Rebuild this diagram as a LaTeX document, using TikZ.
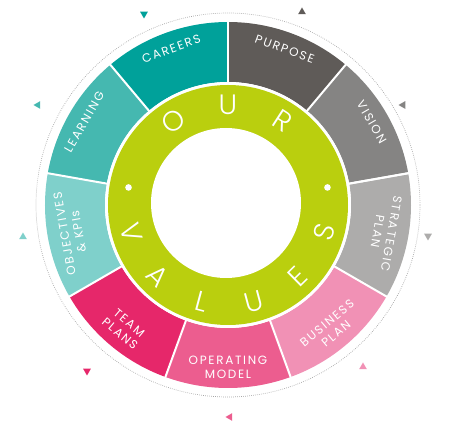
\documentclass[tikz,border=0pt]{standalone}
\usepackage{fontspec}
\usepackage{tikz}
\usetikzlibrary{shapes.geometric}
\newfontfamily\wheelfont[LetterSpace=14]{Poppins}
\newfontfamily\valuesfont{Poppins Light}
\definecolor{careers}{HTML}{00A19A}
\definecolor{learning}{HTML}{45B8B0}
\definecolor{objectives}{HTML}{7FD0CB}
\definecolor{teamplans}{HTML}{E6276A}
\definecolor{operating}{HTML}{EC5D8F}
\definecolor{business}{HTML}{F191B5}
\definecolor{strategic}{HTML}{ADACAB}
\definecolor{vision}{HTML}{858483}
\definecolor{purpose}{HTML}{5F5B58}
\definecolor{values}{HTML}{BACF0E}
\tikzset{
	seglabel/.style={text=white, font=\wheelfont\fontsize{12}{14}\selectfont, align=center, inner sep=0pt},
	bigletter/.style={text=white, font=\valuesfont\fontsize{28}{28}\selectfont, inner sep=0pt},
	marker/.style={regular polygon, regular polygon sides=3, inner sep=0pt, minimum size=9pt},
}

\begin{document}
\begin{tikzpicture}[x=1pt, y=1pt]
	\useasboundingbox (-228,-225) rectangle (222,205);
	% segments of the wheel
	\foreach \a/\col in {90/careers, 130/learning, 170/objectives, 210/teamplans, 250/operating, 290/business, 330/strategic, 10/vision, 50/purpose}
		\fill[\col] (\a:123) arc[start angle=\a, end angle=\a+40, radius=123] -- (\a+40:183) arc[start angle=\a+40, end angle=\a, radius=183] -- cycle;
	\foreach \a in {10,50,...,370}
		\draw[white, line width=2pt] (\a:121) -- (\a:185);
	\draw[gray!70, line width=0.7pt, dash pattern=on 0.7pt off 1.3pt] (0,0) circle[radius=192];
	% green ring
	\fill[white] (0,0) circle[radius=123];
	\fill[values] (0,0) circle[radius=120];
	\fill[white] (-2,2) circle[radius=75];
	\fill[white] (170:101) circle[radius=3.3];
	\fill[white] (10:101) circle[radius=3.3];
	
	\node[seglabel, rotate=20] (careers) at (110:166) {CAREERS};
	\node[seglabel, rotate=-20] (purpose) at (70:166) {PURPOSE};
	\node[seglabel, rotate=60] (learning) at (150:166) {LEARNING};
	\node[seglabel, rotate=-60] (vision) at (30:166) {VISION};
	\node[seglabel, rotate=100] (objectives) at (190:159) {OBJECTIVES\\\& KPIs};
	\node[seglabel, rotate=-100] (strategic) at (-10:159) {STRATEGIC\\PLAN};
	\node[seglabel, rotate=40] (business) at (-50:161) {BUSINESS\\PLAN};
	\node[seglabel, rotate=0] (operating) at (-90:162) {OPERATING\\MODEL};
	\node[seglabel, rotate=-40] (teamplans) at (-130:161) {TEAM\\PLANS};
	
	\foreach \l/\a in {O/123, U/90, R/57}
		\node[bigletter, rotate=\a-90] (our\l) at (\a:100) {\l};
	\foreach \l/\a [count=\i] in {V/-164, A/-134.5, L/-105, U/-75, E/-45.5, S/-16}
		\node[bigletter, rotate=\a+90] (values\i) at (\a:100) {\l};
	
	\node[marker, fill=careers, shape border rotate=180] (tri1) at (-84,191) {};
	\node[marker, fill=learning, shape border rotate=90] (tri2) at (-190,100) {};
	\node[marker, fill=purpose] (tri3) at (74,193) {};
	\node[marker, fill=vision, shape border rotate=90] (tri4) at (175,100) {};
	\node[marker, fill=objectives] (tri5) at (-205,-32) {};
	\node[marker, fill=teamplans, shape border rotate=180] (tri6) at (-141,-166) {};
	\node[marker, fill=strategic, shape border rotate=180] (tri7) at (200,-31) {};
	\node[marker, fill=business] (tri8) at (135,-162) {};
	\node[marker, fill=operating, shape border rotate=90] (tri9) at (2,-212) {};
\end{tikzpicture}
\end{document}
